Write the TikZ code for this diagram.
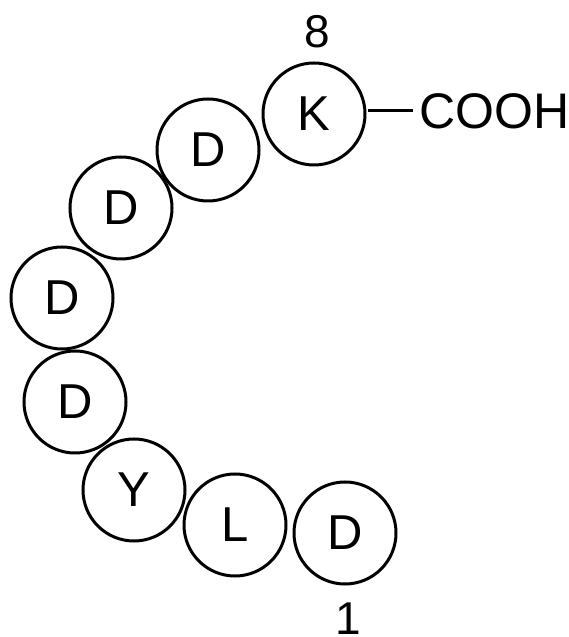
\documentclass[tikz,border=0pt]{standalone}
\usepackage{fontspec}
\setmainfont{Liberation Sans}
\begin{document}
\begin{tikzpicture}[x=1pt,y=1pt,
  res/.style={circle,draw,line width=3pt,minimum size=102pt,inner sep=0pt,font=\fontsize{49}{58}\selectfont},
  lbl/.style={inner sep=0pt,font=\fontsize{46}{55}\selectfont}]
\useasboundingbox (0,0) rectangle (568,637);
\node[res] (r8) at (314,523) {K};
\node[res] (r7) at (208,487) {D};
\node[res] (r6) at (121,429) {D};
\node[res] (r5) at (62,339) {D};
\node[res] (r4) at (75,235) {D};
\node[res] (r3) at (134,147) {Y};
\node[res] (r2) at (235,112) {L};
\node[res] (r1) at (345,104) {D};
\node[lbl] (n8) at (317,605) {8};
\node[lbl] (n1) at (348,18) {1};
\node[lbl,anchor=west,font=\fontsize{50}{60}\selectfont] (cooh) at (419,526) {COOH};
\coordinate (bstart) at (368,526);
\draw[line width=3pt] (bstart) -- ([xshift=-6pt]cooh.west);
\end{tikzpicture}
\end{document}
